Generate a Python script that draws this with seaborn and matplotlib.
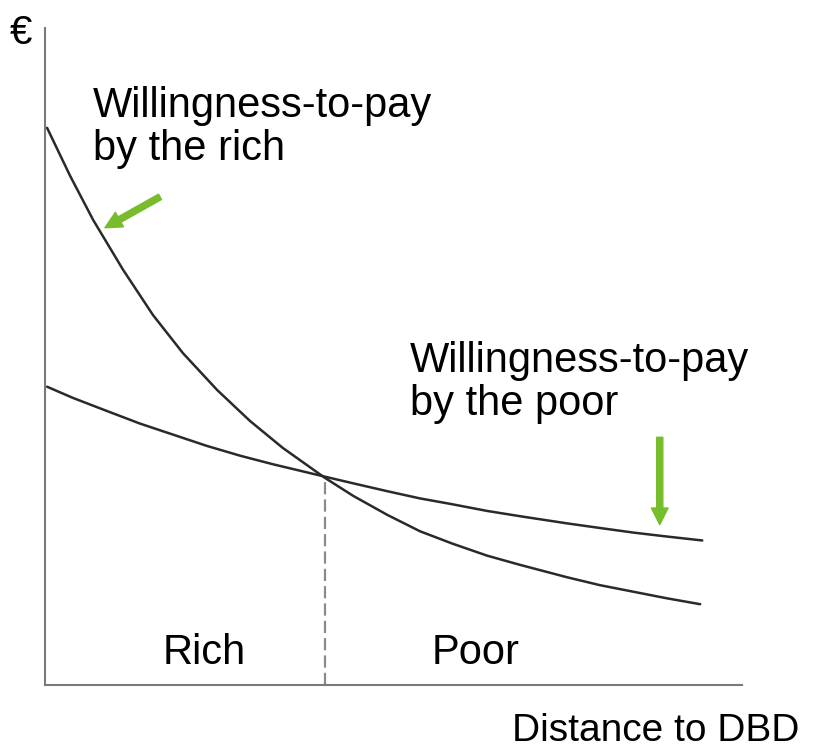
import numpy as np
import pandas as pd
import matplotlib
matplotlib.use("Agg")
import matplotlib.pyplot as plt
import seaborn as sns

# curve values (arbitrary units, 0-100 on both axes)
rich_x = [0.3, 3.6, 6.9, 11.2, 15.5, 19.8, 24.7, 29.4, 34.1, 40.2, 44.2,
          49.1, 53.8, 58.5, 63.4, 68.1, 74.9, 79.6, 84.4, 89.2, 94.0]
rich_y = [84.8, 77.5, 70.8, 63.2, 56.3, 50.5, 44.9, 40.2, 36.1, 31.5, 28.8,
          25.9, 23.4, 21.5, 19.7, 18.3, 16.4, 15.2, 14.2, 13.2, 12.3]

poor_x = [0.3, 4.0, 8.9, 13.6, 18.4, 23.2, 28.0, 32.7, 40.2, 44.2, 49.1,
          53.8, 58.5, 63.4, 68.1, 74.9, 79.6, 84.4, 89.2, 94.3]
poor_y = [45.4, 43.7, 41.7, 39.8, 38.1, 36.4, 34.9, 33.6, 31.7, 30.7, 29.5,
          28.4, 27.5, 26.5, 25.7, 24.6, 23.9, 23.2, 22.6, 22.0]

# crossing point of the two curves
cross_x = 40.2
cross_y = 31.6

sns.set_style("white")
plt.rcParams['font.family'] = ['Liberation Sans', 'DejaVu Sans']

fig = plt.figure(figsize=(8.27, 7.49), dpi=100)
ax = fig.add_axes([45 / 827, 64 / 749, 697 / 827, 657 / 749])

df = pd.concat([
    pd.DataFrame({"x": rich_x, "y": rich_y, "group": "rich"}),
    pd.DataFrame({"x": poor_x, "y": poor_y, "group": "poor"}),
])
sns.lineplot(data=df, x="x", y="y", units="group", estimator=None,
             color="#2a2a2a", lw=1.8, ax=ax, sort=False,
             solid_joinstyle="round", solid_capstyle="round")

ax.plot([cross_x, cross_x], [0, cross_y], color="#8a8a8a", lw=1.6,
        dashes=(5.5, 2.3))

ax.set_xlim(0, 100)
ax.set_ylim(0, 100)
ax.set_xticks([])
ax.set_yticks([])
ax.set_xlabel("")
ax.set_ylabel("")
for s in ["top", "right"]:
    ax.spines[s].set_visible(False)
for s in ["left", "bottom"]:
    ax.spines[s].set_color("#7a7a7a")
    ax.spines[s].set_linewidth(1.5)

# green arrows
green = "#77bd2b"
arrow = dict(arrowstyle="simple,head_length=0.6,head_width=0.6,tail_width=0.22",
             color=green, mutation_scale=20, shrinkA=0, shrinkB=0)
ax.annotate("", xy=(8.6, 69.6), xytext=(16.5, 74.3), arrowprops=arrow)
ax.annotate("", xy=(88.2, 24.4), xytext=(88.2, 37.7), arrowprops=arrow)

# labels (pixel positions converted to figure fractions)
def label(px, py, s, size=30):
    fig.text(px / 827, 1 - py / 749, s, fontsize=size, va="baseline",
             ha="left", color="black")

label(10, 44, "€", 29)
label(93, 117, "Willingness-to-pay")
label(93, 160, "by the rich")
label(410, 372, "Willingness-to-pay")
label(410, 415, "by the poor")
label(163, 664, "Rich")
label(432, 664, "Poor")
label(512, 741, "Distance to DBD", 28)

fig.savefig("out.png", dpi=100)
